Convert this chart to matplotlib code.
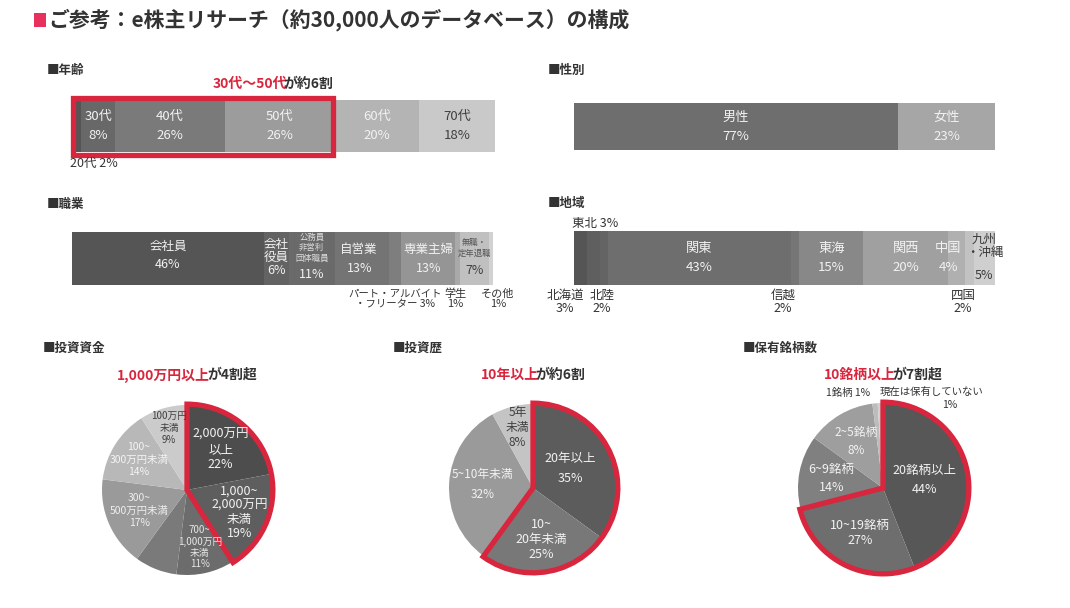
import matplotlib
matplotlib.use("Agg")
import matplotlib.pyplot as plt
from matplotlib.patches import Rectangle, Wedge
import numpy as np

plt.rcParams['font.family'] = ['Noto Sans CJK JP', 'DejaVu Sans']

W, H = 1070, 608
RED = '#D7263D'
DARK = '#333333'
LT = '#F2F2F2'
TXT_D = '#404040'

# ---------------- data ----------------
age_labels = ['20代', '30代', '40代', '50代', '60代', '70代']
age_values = [2, 8, 26, 26, 20, 18]

gender_labels = ['男性', '女性']
gender_values = [77, 23]

job_labels = ['会社員', '会社役員', '公務員・非営利団体職員', '自営業', 'パート・アルバイト・フリーター',
              '専業主婦', '学生', '無職・定年退職', 'その他']
job_values = [46, 6, 11, 13, 3, 13, 1, 7, 1]

region_labels = ['北海道', '東北', '北陸', '関東', '信越', '東海', '関西', '中国', '四国', '九州・沖縄']
region_values = [3, 3, 2, 43, 2, 15, 20, 4, 2, 5]

fund_labels = ['2,000万円以上', '1,000~2,000万円未満', '700~1,000万円未満', '500~700万円未満',
               '300~500万円未満', '100~300万円未満', '100万円未満']
fund_values = [22, 19, 11, 8, 17, 14, 9]

hist_labels = ['20年以上', '10~20年未満', '5~10年未満', '5年未満']
hist_values = [35, 25, 32, 8]

hold_labels = ['20銘柄以上', '10~19銘柄', '6~9銘柄', '2~5銘柄', '1銘柄', '現在は保有していない']
hold_values = [44, 27, 14, 8, 1, 1]
hold_slice = [44, 27, 14, 13, 1, 1]   # slice sizes as drawn in the reference

# ---------------- figure ----------------
fig = plt.figure(figsize=(W / 100, H / 100), dpi=100)
fig.patch.set_facecolor('white')


def fx(x):
    return x / W


def fy(y):
    return 1 - y / H


def ftext(x, y, s, **kw):
    kw.setdefault('ha', 'center')
    kw.setdefault('va', 'center')
    fig.text(fx(x), fy(y), s, **kw)


# title
fig.patches.append(Rectangle((fx(34), fy(27)), 12 / W, 14 / H, transform=fig.transFigure,
                             facecolor='#E8305F', edgecolor='none'))
ftext(48, 20, 'ご参考：e株主リサーチ（約30,000人のデータベース）の構成', ha='left',
      fontsize=15, fontweight='bold', color=DARK)

# section headers
for x, y, s in [(47, 70, '■年齢'), (548, 70, '■性別'), (47, 204, '■職業'), (548, 204, '■地域'),
                (43, 348, '■投資資金'), (393, 348, '■投資歴'), (743, 348, '■保有銘柄数')]:
    ftext(x, y, s, ha='left', fontsize=9, fontweight='bold', color=DARK)


def red_dark(xc, y, red, dark, size=10):
    # centered two-color bold text
    t1 = fig.text(0, 0, red, fontsize=size, fontweight='bold', color=RED)
    t2 = fig.text(0, 0, dark, fontsize=size, fontweight='bold', color=DARK)
    r = fig.canvas.get_renderer()
    w1 = t1.get_window_extent(r).width - 3
    w2 = t2.get_window_extent(r).width
    x0 = xc - (w1 + w2) / 2
    t1.set_position((fx(x0), fy(y)))
    t2.set_position((fx(x0 + w1), fy(y)))
    t1.set_va('center')
    t2.set_va('center')


def bar_axes(x0, x1, y0, y1, values, colors):
    ax = fig.add_axes([fx(x0), fy(y1), (x1 - x0) / W, (y1 - y0) / H])
    left = np.concatenate([[0], np.cumsum(values)[:-1]])
    ax.barh(0.5, values, left=left, height=1, color=colors, edgecolor='none')
    ax.set_xlim(0, sum(values))
    ax.set_ylim(0, 1)
    ax.axis('off')
    mids = left + np.array(values) / 2
    return ax, mids


# ---------- age ----------
age_colors = ['#555555', '#686868', '#7a7a7a', '#9c9c9c', '#b4b4b4', '#c9c9c9']
ax, mids = bar_axes(73, 495, 100, 152, age_values, age_colors)
for i in range(1, 6):
    col = TXT_D if i == 5 else LT
    ax.text(mids[i], 0.5, f'{age_labels[i]}\n{age_values[i]}%', ha='center', va='center',
            fontsize=9.5, color=col, linespacing=1.6)
ax.add_patch(Rectangle((0.1, -0.06), sum(age_values[:4]) - 0.5, 1.1, fill=False,
                       edgecolor=RED, linewidth=3.8, clip_on=False, joinstyle='miter'))
ftext(70, 163, f'{age_labels[0]} {age_values[0]}%', ha='left', fontsize=9, color=DARK)
red_dark(273, 84, '30代〜50代', 'が約6割')

# ---------- gender ----------
ax, mids = bar_axes(574, 995, 103, 150, gender_values, ['#6e6e6e', '#a6a6a6'])
for i in range(2):
    ax.text(mids[i], 0.5, f'{gender_labels[i]}\n{gender_values[i]}%', ha='center', va='center',
            fontsize=9.5, color=LT, linespacing=1.6)

# ---------- job ----------
job_colors = ['#555555', '#636363', '#6a6a6a', '#747474', '#7e7e7e', '#959595', '#a9a9a9',
              '#c0c0c0', '#d2d2d2']
ax, mids = bar_axes(72, 493, 232, 285, job_values, job_colors)
ax.text(mids[0], 0.55, f'会社員\n{job_values[0]}%', ha='center', va='center', fontsize=9,
        color=LT, linespacing=1.5)
ax.text(mids[1], 0.52, f'会社\n役員\n{job_values[1]}%', ha='center', va='center', fontsize=9,
        color=LT, linespacing=1.0)
ax.text(mids[2], 0.7, '公務員\n非営利\n団体職員', ha='center', va='center', fontsize=6,
        color='#dddddd', linespacing=1.25)
ax.text(mids[2], 0.2, f'{job_values[2]}%', ha='center', va='center', fontsize=9, color=LT)
ax.text(mids[3] - 0.6, 0.5, f'自営業\n{job_values[3]}%', ha='center', va='center', fontsize=9,
        color=LT, linespacing=1.6)
ax.text(mids[5], 0.5, f'専業主婦\n{job_values[5]}%', ha='center', va='center', fontsize=9,
        color=LT, linespacing=1.6)
ax.text(mids[7], 0.7, '無職・\n定年退職', ha='center', va='center', fontsize=6,
        color='#555555', linespacing=1.4)
ax.text(mids[7], 0.28, f'{job_values[7]}%', ha='center', va='center', fontsize=9, color=TXT_D)
ftext(395, 299, f'パート・アルバイト\n・フリーター {job_values[4]}%', fontsize=7.5, color=DARK,
      linespacing=1.05)
ftext(455, 299, f'学生\n{job_values[6]}%', fontsize=8, color=DARK, linespacing=1.05)
ftext(498, 299, f'その他\n{job_values[8]}%', fontsize=8, color=DARK, linespacing=1.05)

# ---------- region ----------
region_colors = ['#555555', '#5f5f5f', '#646464', '#6e6e6e', '#767676', '#888888', '#a0a0a0',
                 '#b0b0b0', '#c2c2c2', '#cfcfcf']
ax, mids = bar_axes(574, 995, 231, 285, region_values, region_colors)
for i in [3, 5, 6]:
    ax.text(mids[i], 0.5, f'{region_labels[i]}\n{region_values[i]}%', ha='center', va='center',
            fontsize=9.5, color=LT, linespacing=1.6)
ax.text(mids[7] - 2, 0.5, f'{region_labels[7]}\n{region_values[7]}%', ha='center', va='center',
        fontsize=9.5, color=LT, linespacing=1.6)
ax.text(mids[9], 0.72, '九州\n・沖縄', ha='center', va='center',
        fontsize=9, color='#3a3a3a', linespacing=1.0)
ax.text(mids[9], 0.17, f'{region_values[9]}%', ha='center', va='center',
        fontsize=9, color='#3a3a3a')
ftext(595, 223, f'東北 {region_values[1]}%', fontsize=9, color=DARK)
ftext(565, 302, f'北海道\n{region_values[0]}%', fontsize=9, color=DARK, linespacing=1.05)
ftext(602, 302, f'北陸\n{region_values[2]}%', fontsize=9, color=DARK, linespacing=1.05)
ftext(783, 302, f'信越\n{region_values[4]}%', fontsize=9, color=DARK, linespacing=1.05)
ftext(963, 302, f'四国\n{region_values[8]}%', fontsize=9, color=DARK, linespacing=1.05)


# ---------- pies ----------
def pie_axes(cx, cy, r, sizes, colors, red_n, labels, dists, tcolors, fsizes, lsps):
    side = 2.2 * r
    ax = fig.add_axes([fx(cx - side / 2), fy(cy + side / 2), side / W, side / H])
    ax.pie(sizes, colors=colors, startangle=90, counterclock=False, radius=1,
           wedgeprops=dict(edgecolor='none'))
    ax.set_xlim(-1.1, 1.1)
    ax.set_ylim(-1.1, 1.1)
    ax.set_aspect('equal')
    ax.axis('off')
    tot = sum(sizes)
    cum = np.cumsum(sizes)
    start = 90 - 360 * cum[red_n - 1] / tot
    ax.add_patch(Wedge((0, 0), 1.01, start, 90, fill=False, edgecolor=RED, linewidth=3.8,
                       joinstyle='miter', clip_on=False))
    for i, lab in enumerate(labels):
        if lab is None:
            continue
        mid = np.deg2rad(90 - 360 * (cum[i] - sizes[i] / 2) / tot)
        ax.text(dists[i] * np.cos(mid), dists[i] * np.sin(mid), lab, ha='center', va='center',
                fontsize=fsizes[i], color=tcolors[i], linespacing=lsps[i])
    return ax


# pie 1
red_dark(187, 375, '1,000万円以上', 'が4割超')
pie_axes(187, 490, 85, fund_values,
         ['#4d4d4d', '#5e5e5e', '#6c6c6c', '#7a7a7a', '#9a9a9a', '#b8b8b8', '#cbcbcb'], 2,
         [f'2,000万円\n以上\n{fund_values[0]}%', f'1,000~\n2,000万円\n未満\n{fund_values[1]}%',
          f'700~\n1,000万円\n未満\n{fund_values[2]}%', None,
          f'300~\n500万円未満\n{fund_values[4]}%', f'100~\n300万円未満\n{fund_values[5]}%',
          f'100万円\n未満\n{fund_values[6]}%'],
         [0.62, 0.67, 0.69, 0, 0.61, 0.67, 0.76],
         [LT, LT, '#e6e6e6', LT, '#eeeeee', '#f4f4f4', TXT_D],
         [9, 9, 7, 8, 7.5, 7.5, 7], [1.2, 1.1, 1.15, 1, 1.3, 1.3, 1.3])

# pie 2
red_dark(533, 375, '10年以上', 'が約6割')
pie_axes(533, 488, 84, hist_values, ['#5c5c5c', '#787878', '#9a9a9a', '#c4c4c4'], 2,
         [f'20年以上\n{hist_values[0]}%', f'10~\n20年未満\n{hist_values[1]}%',
          f'5~10年未満\n{hist_values[2]}%', f'5年\n未満\n{hist_values[3]}%'],
         [0.5, 0.62, 0.6, 0.74],
         [LT, LT, LT, TXT_D],
         [9, 9, 8.5, 8.5], [1.7, 1.2, 1.7, 1.2])

# pie 3
red_dark(883, 375, '10銘柄以上', 'が7割超')
pie_axes(883, 488, 85, hold_slice,
         ['#575757', '#6e6e6e', '#808080', '#9e9e9e', '#bcbcbc', '#d0d0d0'], 2,
         [f'20銘柄以上\n{hold_values[0]}%', f'10~19銘柄\n{hold_values[1]}%',
          f'6~9銘柄\n{hold_values[2]}%', f'2~5銘柄\n{hold_values[3]}%', None, None],
         [0.5, 0.6, 0.62, 0.63, 0, 0],
         [LT, LT, LT, LT, LT, LT],
         [9, 9, 9, 8.5, 8, 8], [1.6, 1.2, 1.5, 1.5, 1, 1])
ftext(848, 393, f'{hold_labels[4]} {hold_values[4]}%', fontsize=7.5, color=DARK)
ftext(932, 392, hold_labels[5], fontsize=7.5, color=DARK)
ftext(950, 405, f'{hold_values[5]}%', fontsize=7.5, color=DARK)

fig.savefig('out.png', dpi=100, facecolor='white')
